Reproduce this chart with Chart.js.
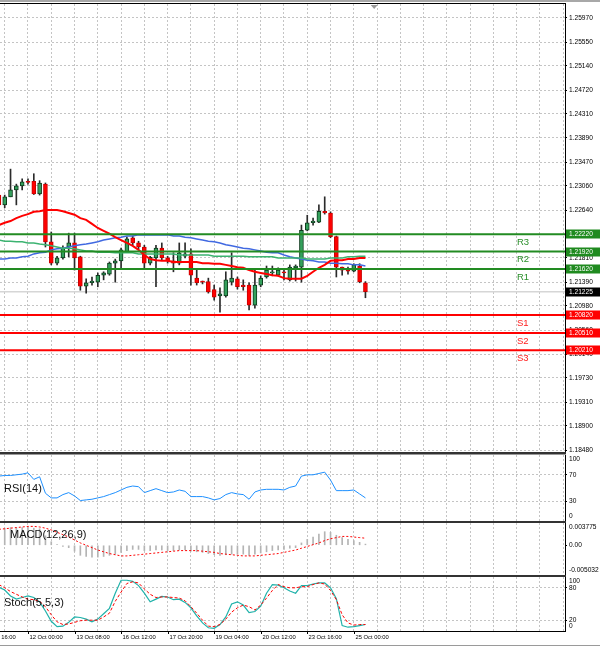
<!DOCTYPE html>
<html>
<head>
<meta charset="utf-8">
<script src="https://cdn.jsdelivr.net/npm/chart.js@4.4.0/dist/chart.umd.min.js"></script>
<style>
html, body { margin: 0; padding: 0; background: #fff; }
body { width: 600px; height: 648px; position: relative; overflow: hidden; }
.pane { position: absolute; left: 0; width: 600px; }
.rule { position: absolute; left: 0; }
</style>
</head>
<body>
<div class="rule" style="top:0;width:600px;height:2px;background:#a8a8a8"></div>
<div class="rule" style="top:3px;width:566px;height:1px;background:#000"></div>
<div class="pane" style="top:4px;height:448px"><canvas id="main"></canvas></div>
<div class="rule" style="top:452px;width:566px;height:2px;background:#333"></div>
<div class="rule" style="top:454px;width:566px;height:1px;background:#999"></div>
<div class="pane" style="top:455px;height:66px"><canvas id="rsi"></canvas></div>
<div class="rule" style="top:521px;width:566px;height:2px;background:#333"></div>
<div class="pane" style="top:523px;height:52px"><canvas id="macd"></canvas></div>
<div class="rule" style="top:575px;width:566px;height:2px;background:#333"></div>
<div class="pane" style="top:577px;height:71px"><canvas id="stoch"></canvas></div>
<div class="rule" style="top:631px;width:566px;height:1px;background:#000"></div>
<div class="rule" style="top:645px;width:600px;height:1px;background:#9a9a9a"></div>
<script>
// H4 candles, 11 Oct 04:00 .. 25 Oct 08:00
const opens = [1.2290,1.2273,1.2287,1.2299,1.2306,1.2313,1.2314,1.2292,1.2309,1.2209,1.2172,1.2181,1.2200,1.2207,1.2183,1.2132,1.2138,1.2139,1.2151,1.2153,1.2172,1.2176,1.2191,1.2216,1.2207,1.2200,1.2172,1.2181,1.2198,1.2181,1.2176,1.2172,1.2184,1.2188,1.2146,1.2140,1.2140,1.2126,1.2115,1.2115,1.2139,1.2145,1.2134,1.2134,1.2099,1.2134,1.2148,1.2155,1.2151,1.2157,1.2143,1.2164,1.2165,1.2229,1.2242,1.2243,1.2262,1.2259,1.2218,1.2165,1.2162,1.2158,1.2167,1.2138];
const highs = [1.2294,1.2290,1.2335,1.2309,1.2318,1.2318,1.2327,1.2315,1.2311,1.2226,1.2184,1.2202,1.2224,1.2224,1.2184,1.2145,1.2148,1.2155,1.2157,1.2174,1.2179,1.2198,1.2217,1.2219,1.2210,1.2203,1.2184,1.2203,1.2207,1.2184,1.2190,1.2207,1.2207,1.2197,1.2160,1.2141,1.2146,1.2134,1.2129,1.2157,1.2190,1.2148,1.2143,1.2138,1.2160,1.2150,1.2167,1.2167,1.2164,1.2160,1.2169,1.2169,1.2238,1.2255,1.2250,1.2273,1.2287,1.2261,1.2219,1.2165,1.2165,1.2171,1.2171,1.2140];
const lows = [1.2268,1.2268,1.2287,1.2273,1.2299,1.2309,1.2291,1.2290,1.2200,1.2169,1.2169,1.2179,1.2183,1.2160,1.2125,1.2120,1.2134,1.2131,1.2143,1.2151,1.2139,1.2164,1.2190,1.2203,1.2197,1.2164,1.2169,1.2131,1.2177,1.2172,1.2157,1.2169,1.2181,1.2134,1.2134,1.2136,1.2120,1.2108,1.2087,1.2113,1.2134,1.2127,1.2125,1.2091,1.2094,1.2131,1.2146,1.2150,1.2150,1.2143,1.2141,1.2141,1.2139,1.2228,1.2238,1.2242,1.2257,1.2216,1.2148,1.2151,1.2153,1.2157,1.2138,1.2112];
const closes = [1.2273,1.2287,1.2299,1.2306,1.2313,1.2312,1.2292,1.2311,1.2209,1.2172,1.2181,1.2198,1.2207,1.2181,1.2132,1.2138,1.2141,1.2151,1.2155,1.2172,1.2176,1.2195,1.2214,1.2207,1.2200,1.2172,1.2182,1.2198,1.2181,1.2176,1.2172,1.2190,1.2188,1.2151,1.2138,1.2139,1.2122,1.2113,1.2119,1.2143,1.2146,1.2131,1.2131,1.2099,1.2134,1.2146,1.2160,1.2157,1.2160,1.2155,1.2165,1.2167,1.2229,1.2242,1.2245,1.2262,1.2259,1.2218,1.2165,1.2160,1.2158,1.2169,1.2140,1.21225];

// moving averages
const maRed = [1.2238,1.2242,1.2245,1.2250,1.2254,1.2257,1.2261,1.2262,1.2264,1.2264,1.2264,1.2262,1.2259,1.2256,1.2250,1.2247,1.2240,1.2233,1.2228,1.2223,1.2217,1.2212,1.2207,1.2202,1.2195,1.2186,1.2179,1.2177,1.2176,1.2176,1.2174,1.2174,1.2174,1.2174,1.2174,1.2172,1.2172,1.2171,1.2171,1.2169,1.2167,1.2165,1.2164,1.2160,1.2157,1.2155,1.2153,1.2151,1.2150,1.2146,1.2145,1.2145,1.2145,1.2150,1.2157,1.2164,1.2169,1.2176,1.2177,1.2177,1.2179,1.2179,1.2181,1.2181];
const maBlue = [1.2179,1.2179,1.2181,1.2181,1.2183,1.2184,1.2188,1.2190,1.2191,1.2195,1.2197,1.2198,1.2200,1.2202,1.2204,1.2205,1.2207,1.2209,1.2212,1.2214,1.2216,1.2217,1.2219,1.2219,1.2221,1.2221,1.2221,1.2221,1.2221,1.2221,1.2219,1.2219,1.2217,1.2216,1.2214,1.2212,1.2210,1.2209,1.2207,1.2204,1.2202,1.2200,1.2198,1.2197,1.2195,1.2193,1.2191,1.2190,1.2190,1.2186,1.2183,1.2181,1.2179,1.2177,1.2176,1.2174,1.2174,1.2172,1.2172,1.2171,1.2171,1.2169,1.2169,1.2167];
const maGreen = [1.2212,1.2210,1.2210,1.2209,1.2209,1.2207,1.2207,1.2205,1.2204,1.2202,1.2200,1.2198,1.2198,1.2197,1.2195,1.2193,1.2193,1.2191,1.2191,1.2191,1.2190,1.2190,1.2190,1.2190,1.2188,1.2188,1.2188,1.2188,1.2188,1.2188,1.2188,1.2186,1.2186,1.2186,1.2186,1.2186,1.2186,1.2184,1.2184,1.2184,1.2184,1.2184,1.2184,1.2183,1.2183,1.2183,1.2183,1.2183,1.2181,1.2181,1.2181,1.2181,1.2181,1.2179,1.2179,1.2179,1.2179,1.2181,1.2181,1.2181,1.2183,1.2183,1.2184,1.2184];

// pivots
const pivotNames = ['R3','R2','R1','S1','S2','S3'];
const pivotValues = [1.2222,1.2192,1.2162,1.2082,1.2051,1.2021];
const lastPrice = 1.21225;

// indicators
const rsi = [68,69,69,70,71,73,63,67,42,35,35,40,43,38,31,32,33,35,37,40,43,47,51,53,52,43,46,49,46,43,44,47,45,37,37,37,35,32,34,40,43,41,40,33,44,47,48,48,48,47,51,53,68,70,70,72,74,62,46,46,46,47,41,35];
const macdHist = [0.0028,0.0029,0.0030,0.0030,0.0030,0.0031,0.0029,0.0028,0.0016,0.0006,0.0001,-0.0002,-0.0004,-0.0010,-0.0017,-0.0019,-0.0020,-0.0020,-0.0019,-0.0017,-0.0015,-0.0012,-0.0009,-0.0007,-0.0007,-0.0009,-0.0009,-0.0008,-0.0008,-0.0009,-0.0009,-0.0008,-0.0008,-0.0010,-0.0011,-0.0012,-0.0014,-0.0016,-0.0017,-0.0016,-0.0015,-0.0015,-0.0015,-0.0017,-0.0015,-0.0013,-0.0011,-0.0009,-0.0008,-0.0007,-0.0005,-0.0004,0.0004,0.0010,0.0014,0.0019,0.0023,0.0022,0.0017,0.0013,0.0010,0.0008,0.0005,0.0002];
const macdSignal = [0.0027,0.0028,0.0029,0.0030,0.0031,0.0032,0.0032,0.0031,0.0029,0.0026,0.0022,0.0018,0.0014,0.0009,0.0004,0.0000,-0.0004,-0.0008,-0.0011,-0.0014,-0.0016,-0.0018,-0.0018,-0.0017,-0.0016,-0.0015,-0.0014,-0.0013,-0.0012,-0.0011,-0.0010,-0.0009,-0.0009,-0.0009,-0.0009,-0.0010,-0.0011,-0.0012,-0.0014,-0.0015,-0.0016,-0.0017,-0.0018,-0.0018,-0.0018,-0.0017,-0.0016,-0.0015,-0.0014,-0.0012,-0.0010,-0.0008,-0.0005,-0.0002,0.0001,0.0004,0.0008,0.0011,0.0013,0.0015,0.0015,0.0014,0.0013,0.0012];
const stochK = [81,76,65,59,62,65,62,54,37,18,8,9,16,26,25,22,17,22,32,42,70,94,94,92,84,70,54,59,64,63,58,59,53,43,28,15,6,5,12,26,50,54,48,34,36,46,70,86,85,80,74,70,84,84,87,89,89,80,60,10,7,8,10,12];
const stochD = [86,80,73,68,63,59,58,55,45,30,17,12,13,16,19,20,20,20,26,33,55,72,88,91,89,78,68,62,63,63,62,61,56,45,33,20,9,8,12,22,35,43,48,45,39,48,61,75,86,82,80,80,82,82,86,89,87,75,58,30,15,11,12,12];

// axes
const priceTicks = [1.25970,1.25550,1.25140,1.24720,1.24310,1.23890,1.23470,1.23060,1.22640,1.22220,1.21810,1.21390,1.20980,1.20560,1.20140,1.19730,1.19310,1.18900,1.18480];
const rsiLevels = [100,70,30,0];
const macdLevels = [0.003775,0,-0.005032];
const macdLevelText = ['0.003775','0.00','-0.005032'];
const stochLevels = [100,80,20,0];
const gridIdx = [1,5,9,13,17,21,25,29,33,37,41,45,49,53,57,61,65,69,73,77,81,85,89,93,97];
const timeLabelIdx = [-3,5,13,21,29,37,45,53,61];
const timeLabels = ['10 Oct 16:00','12 Oct 00:00','13 Oct 08:00','16 Oct 12:00','17 Oct 20:00','19 Oct 04:00','20 Oct 12:00','23 Oct 16:00','25 Oct 00:00'];

const X_MIN = 0.19, X_MAX = 97.3;
const AXIS_W = 35;
const FONT = '"Liberation Sans", Arial, sans-serif';
const GRID = '#c4c4c4';

const idx = opens.map((_, i) => i);
const isUp = idx.map(i => closes[i] >= opens[i]);

function xAxis() {
  return {
    type: 'linear', min: X_MIN, max: X_MAX, offset: false,
    afterBuildTicks: s => { s.ticks = gridIdx.map(v => ({ value: v })); },
    afterFit: s => { s.height = 0; },
    ticks: { display: false },
    grid: { color: GRID, drawTicks: false, offset: false },
    border: { display: false, dash: [2, 2] }
  };
}

function yAxis(min, max, gridVals) {
  return {
    type: 'linear', position: 'right', min: min, max: max,
    afterBuildTicks: s => { s.ticks = gridVals.map(v => ({ value: v })); },
    afterFit: s => { s.width = AXIS_W; },
    ticks: { display: false },
    grid: { color: GRID, drawTicks: true, tickLength: 2, tickColor: '#000', tickBorderDash: [] },
    border: { display: true, color: '#000', width: 1, dash: [2, 2] }
  };
}

function lineSet(values, color, width, dash, order) {
  return {
    type: 'line', data: idx.map(i => ({ x: i, y: values[i] })),
    borderColor: color, borderWidth: width, borderDash: dash || [],
    pointRadius: 0, tension: 0, fill: false, order: order
  };
}

// right-hand labels for the sub windows plus the indicator name
const sideLabels = {
  id: 'sideLabels',
  afterDraw(chart, args, opts) {
    if (!opts.levels) return;
    const { ctx, chartArea: a, scales: { y } } = chart;
    ctx.save();
    ctx.font = '6.6px ' + FONT;
    ctx.fillStyle = '#000';
    ctx.textAlign = 'left';
    ctx.textBaseline = 'middle';
    opts.levels.forEach((v, k) => {
      let py = y.getPixelForValue(v);
      py = Math.min(Math.max(py, a.top + 4.5), a.bottom - 4.5);
      ctx.fillText(opts.text ? opts.text[k] : String(v), a.right + 4, py);
    });
    ctx.font = '11px ' + FONT;
    ctx.fillStyle = '#111';
    ctx.fillText(opts.title, opts.titleX, a.top + opts.titleY);
    ctx.restore();
  }
};

// price scale labels, pivot names, value boxes
const priceOverlay = {
  id: 'priceOverlay',
  afterDraw(chart, args, opts) {
    if (!opts.on) return;
    const { ctx, chartArea: a, scales: { x, y } } = chart;
    ctx.save();
    ctx.font = '6.6px ' + FONT;
    ctx.textAlign = 'left';
    ctx.textBaseline = 'middle';
    ctx.fillStyle = '#000';
    priceTicks.forEach(v => ctx.fillText(v.toFixed(5), a.right + 4, y.getPixelForValue(v)));

    ctx.font = '9.5px ' + FONT;
    pivotValues.forEach((v, k) => {
      ctx.fillStyle = k < 3 ? '#2a8f2a' : '#ff2020';
      ctx.fillText(pivotNames[k], a.right - 48, y.getPixelForValue(v) + 8);
    });

    ctx.font = '6.6px ' + FONT;
    const box = (v, bg) => {
      const py = Math.round(y.getPixelForValue(v));
      ctx.fillStyle = bg;
      ctx.fillRect(a.right + 1, py - 4.5, 34, 9);
      ctx.fillStyle = '#fff';
      ctx.fillText(v.toFixed(5), a.right + 4, py);
    };
    pivotValues.forEach((v, k) => box(v, k < 3 ? '#1f8a1f' : '#ff0000'));
    box(lastPrice, '#000');

    // chart shift marker
    const sx = x.getPixelForValue(64.5);
    ctx.fillStyle = '#9a9a9a';
    ctx.beginPath();
    ctx.moveTo(sx - 3.5, a.top + 1);
    ctx.lineTo(sx + 3.5, a.top + 1);
    ctx.lineTo(sx, a.top + 5);
    ctx.closePath();
    ctx.fill();
    ctx.restore();
  }
};

// time labels under the last window
const timeAxis = {
  id: 'timeAxis',
  afterDraw(chart, args, opts) {
    if (!opts.on) return;
    const { ctx, chartArea: a, scales: { x } } = chart;
    ctx.save();
    ctx.font = '5.8px ' + FONT;
    ctx.fillStyle = '#000';
    ctx.strokeStyle = '#000';
    ctx.lineWidth = 1;
    ctx.textAlign = 'left';
    ctx.textBaseline = 'middle';
    timeLabelIdx.forEach((v, k) => {
      const px = Math.round(x.getPixelForValue(v)) + 0.5;
      ctx.beginPath();
      ctx.moveTo(px, a.bottom);
      ctx.lineTo(px, a.bottom + 3);
      ctx.stroke();
      ctx.fillText(timeLabels[k], px + 1, a.bottom + 6.5);
    });
    ctx.restore();
  }
};

Chart.register(sideLabels, priceOverlay, timeAxis);

function baseOptions(yScale, plugins, padBottom) {
  return {
    responsive: true, maintainAspectRatio: false, animation: false, events: [],
    layout: { padding: { left: 0, right: 0, top: 0, bottom: padBottom || 0 } },
    scales: { x: xAxis(), y: yScale },
    plugins: Object.assign({ legend: { display: false }, tooltip: { enabled: false } }, plugins)
  };
}

// main price window
new Chart(document.getElementById('main'), {
  type: 'bar',
  data: {
    datasets: [
      ...pivotValues.map((v, k) => ({
        type: 'line', data: [{ x: X_MIN - 1, y: v }, { x: X_MAX + 1, y: v }],
        borderColor: k < 3 ? '#228b22' : '#ff0000', borderWidth: 2, pointRadius: 0, order: 1
      })),
      lineSet(maRed, '#ff0000', 2, null, 2),
      lineSet(maGreen, '#3cb371', 1.5, null, 3),
      lineSet(maBlue, '#4169e1', 1.5, null, 3),
      {
        type: 'line', data: [{ x: X_MIN - 1, y: lastPrice }, { x: X_MAX + 1, y: lastPrice }],
        borderColor: '#d6d6d6', borderWidth: 1.5, pointRadius: 0, order: 8
      },
      {
        type: 'bar', data: idx.map(i => ({ x: i, y: [opens[i], closes[i]] })),
        backgroundColor: idx.map(i => isUp[i] ? '#34a05c' : '#ff0000'),
        borderColor: idx.map(i => isUp[i] ? '#0d3a1c' : '#c80000'),
        borderWidth: 1, borderSkipped: false, barThickness: 4, minBarLength: 1,
        grouped: false, order: 5
      },
      {
        type: 'bar', data: idx.map(i => ({ x: i, y: [lows[i], highs[i]] })),
        backgroundColor: '#2b2b2b', barThickness: 1, grouped: false, order: 6
      }
    ]
  },
  options: baseOptions(yAxis(1.184457, 1.262127, priceTicks), { priceOverlay: { on: true } })
});

// RSI window
new Chart(document.getElementById('rsi'), {
  type: 'line',
  data: { datasets: [lineSet(rsi, '#1e90ff', 1, null, 1)] },
  options: baseOptions(yAxis(0, 100, [70, 30]), {
    sideLabels: { levels: rsiLevels, title: 'RSI(14)', titleX: 4, titleY: 34 }
  })
});

// MACD window
const macdY = yAxis(-0.005032, 0.003775, [0]);
macdY.grid.color = 'rgba(0,0,0,0)';
new Chart(document.getElementById('macd'), {
  type: 'bar',
  data: {
    datasets: [
      lineSet(macdSignal, '#ff0000', 1, [2, 2], 1),
      {
        type: 'bar', data: idx.map(i => ({ x: i, y: macdHist[i] })),
        backgroundColor: '#b4b4b4', barThickness: 1, grouped: false, order: 2
      }
    ]
  },
  options: baseOptions(macdY, {
    sideLabels: { levels: macdLevels, text: macdLevelText, title: 'MACD(12,26,9)', titleX: 10, titleY: 12 }
  })
});

// Stochastic window
new Chart(document.getElementById('stoch'), {
  type: 'line',
  data: {
    datasets: [
      lineSet(stochD, '#ff0000', 1, [3, 2], 1),
      lineSet(stochK, '#20b2aa', 1.2, null, 2)
    ]
  },
  options: baseOptions(yAxis(0, 100, [80, 20]), {
    sideLabels: { levels: stochLevels, title: 'Stoch(5,5,3)', titleX: 4, titleY: 26 },
    timeAxis: { on: true }
  }, 17)
});
</script>
</body>
</html>
